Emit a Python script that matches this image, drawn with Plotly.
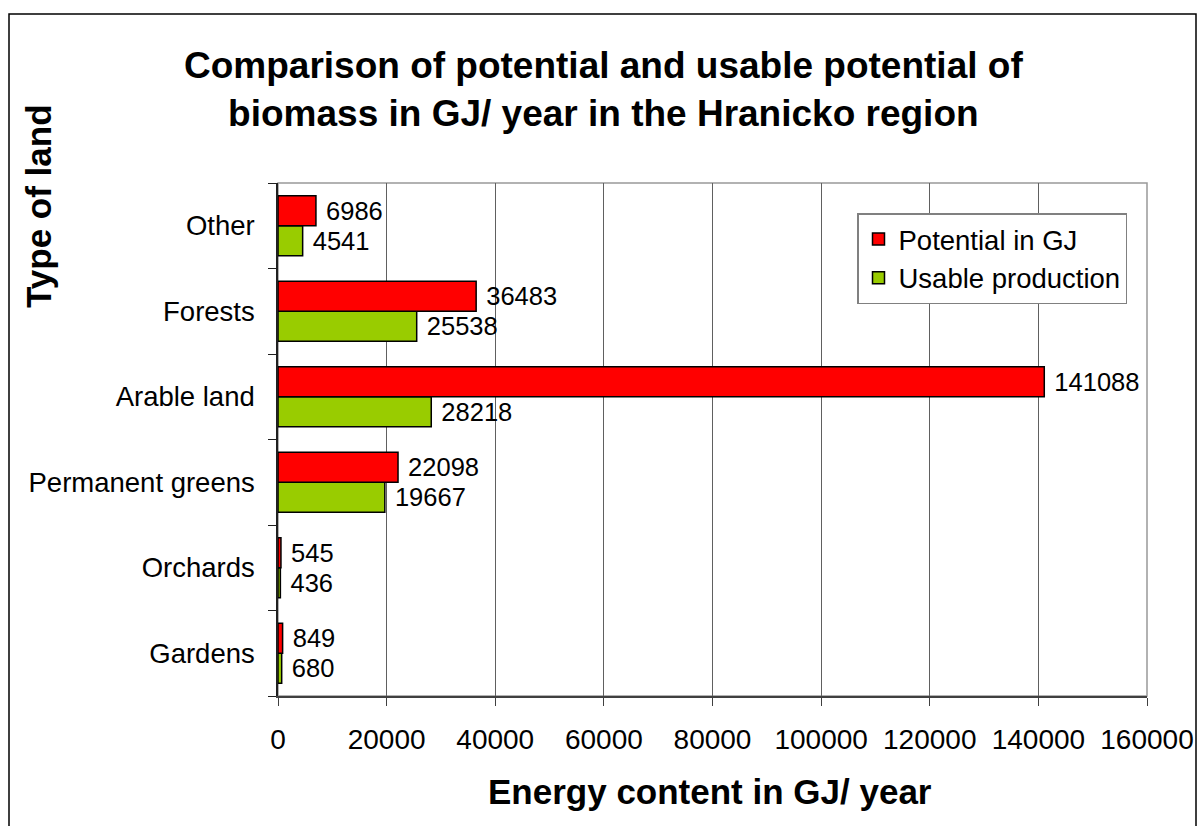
import plotly.graph_objects as go

categories = ["Gardens", "Orchards", "Permanent greens", "Arable land", "Forests", "Other"]
potential = [849, 545, 22098, 141088, 36483, 6986]
usable = [680, 436, 19667, 28218, 25538, 4541]
x_ticks = [0, 20000, 40000, 60000, 80000, 100000, 120000, 140000, 160000]

FONT = "Liberation Sans, Arial, sans-serif"
W, H = 1198, 826
L, R, T, B = 278, 1147, 183, 696

def px_x(p):
    return (p - L) / (R - L)

def px_y(p):
    return (B - p) / (B - T)

fig = go.Figure()
fig.add_trace(go.Bar(
    y=categories, x=usable, orientation="h", name="Usable production",
    marker=dict(color="#99CC00", line=dict(color="#000000", width=1.5)),
    text=[" " + str(v) for v in usable], textposition="outside",
    textfont=dict(family=FONT, size=25.5, color="#000000"), cliponaxis=False,
))
fig.add_trace(go.Bar(
    y=categories, x=potential, orientation="h", name="Potential in GJ",
    marker=dict(color="#FF0000", line=dict(color="#000000", width=1.5)),
    text=[" " + str(v) for v in potential], textposition="outside",
    textfont=dict(family=FONT, size=25.5, color="#000000"), cliponaxis=False,
))

fig.update_layout(
    width=W, height=H,
    margin=dict(l=L, r=W - R, t=T, b=H - B, autoexpand=False),
    paper_bgcolor="white", plot_bgcolor="white",
    barmode="group", bargap=0.3, bargroupgap=0,
    font=dict(family=FONT, color="#000000"),
    showlegend=True,
    legend=dict(
        x=px_x(857), y=px_y(213), xanchor="left", yanchor="top",
        traceorder="reversed",
        bgcolor="white", bordercolor="#808080", borderwidth=1.5,
        font=dict(family=FONT, size=27.5, color="#000000"),
    ),
    xaxis=dict(
        range=[0, 160000], tickvals=x_ticks, ticktext=[str(v) for v in x_ticks],
        showgrid=True, gridcolor="#606060", gridwidth=1,
        showline=True, linecolor="#404040", linewidth=2,
        ticks="outside", ticklen=8, tickcolor="#404040", tickwidth=1,
        ticklabelstandoff=9,
        tickfont=dict(family=FONT, size=28, color="#000000"),
        zeroline=False, fixedrange=True,
    ),
    yaxis=dict(
        categoryorder="array", categoryarray=categories,
        showline=True, linecolor="#202020", linewidth=1.5,
        ticks="outside", ticklen=8, tickcolor="#202020", tickwidth=1,
        tickson="boundaries", ticklabelstandoff=16,
        tickfont=dict(family=FONT, size=27.5, color="#000000"),
        showgrid=False, zeroline=False, fixedrange=True,
    ),
)

# plot area top / right border
fig.add_shape(type="rect", xref="paper", yref="paper", x0=0, y0=0, x1=1, y1=1,
              line=dict(color="#999999", width=1.5), layer="below")
# outer chart frame
fig.add_shape(type="rect", xref="paper", yref="paper",
              x0=px_x(9), y0=px_y(836), x1=px_x(1196), y1=px_y(14),
              line=dict(color="#000000", width=1.5), layer="below")

fig.add_annotation(
    text="<b>Comparison of potential and usable potential of<br>biomass in GJ/ year in the Hranicko region</b>",
    xref="paper", yref="paper", x=px_x(603), y=px_y(90),
    xanchor="center", yanchor="middle", showarrow=False,
    font=dict(family=FONT, size=37, color="#000000"),
)
fig.add_annotation(
    text="<b>Type of land</b>", textangle=-90,
    xref="paper", yref="paper", x=px_x(38), y=px_y(206),
    xanchor="center", yanchor="middle", showarrow=False,
    font=dict(family=FONT, size=35, color="#000000"),
)
fig.add_annotation(
    text="<b>Energy content in GJ/ year</b>",
    xref="paper", yref="paper", x=px_x(710), y=px_y(791),
    xanchor="center", yanchor="middle", showarrow=False,
    font=dict(family=FONT, size=35, color="#000000"),
)

fig.write_html("out.html", config={"displayModeBar": False})
